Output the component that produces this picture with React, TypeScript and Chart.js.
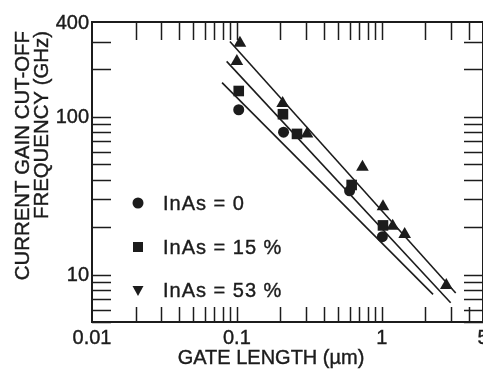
import React, { useEffect, useRef } from "react";
import { Chart, registerables } from "chart.js";

Chart.register(...registerables);

// ---- data ----
const seriesLabels = ["InAs = 0", "InAs = 15 %", "InAs = 53 %"];

const gateLen0 = [0.103, 0.21, 0.6, 1.01];
const fT0 = [111, 80, 34, 17.4];

const gateLen15 = [0.103, 0.208, 0.26, 0.62, 1.02];
const fT15 = [146, 104, 78, 37, 20.5];

const gateLen53 = [0.105, 0.1, 0.207, 0.305, 0.736, 1.02, 1.19, 1.44, 2.79];
const fT53 = [294, 225, 122, 78, 48, 27, 20.3, 18, 8.55];

// straight trend lines (end points)
const fitLen0 = [0.079, 2.26];
const fitFt0 = [165, 7.48];
const fitLen15 = [0.085, 2.99];
const fitFt15 = [225, 6.62];
const fitLen53 = [0.0895, 3.24];
const fitFt53 = [301, 7.64];

const xMin = 0.01;
const xMax = 5;
const yMin = 5;
const yMax = 400;

const xTickValues = [0.01, 0.1, 1, 5];
const xTickLabels = ["0.01", "0.1", "1", "5"];
const yTickValues = [10, 100, 400];
const yTickLabels = ["10", "100", "400"];
const xMinorTicks = [0.02, 0.03, 0.04, 0.05, 0.06, 0.07, 0.08, 0.09, 0.1, 0.2, 0.3, 0.4, 0.5, 0.6, 0.7, 0.8, 0.9, 1, 2, 3, 4];
const yMinorTicks = [5, 6, 7, 8, 9, 10, 20, 30, 40, 50, 60, 70, 80, 90, 100, 200, 300];

const xTitle = "GATE LENGTH (\u00b5m)";
const yTitleLines = ["CURRENT GAIN CUT-OFF", "FREQUENCY (GHz)"];

const INK = "#1c1c1c";
const FONT = '"Liberation Sans", Arial, Helvetica, sans-serif';

const pts = (xs: number[], ys: number[]) => xs.map((x, i) => ({ x, y: ys[i] }));

const heavyText = (ctx: CanvasRenderingContext2D, s: string, x: number, y: number) => {
  ctx.fillText(s, x, y);
  ctx.strokeText(s, x, y);
};

const framePlugin = {
  id: "framePlugin",
  afterDatasetsDraw(chart: any) {
    const { ctx, chartArea: a, scales } = chart;
    const xs = scales.x;
    const ys = scales.y;
    ctx.save();
    ctx.strokeStyle = INK;
    ctx.fillStyle = INK;

    // frame
    ctx.lineWidth = 2;
    ctx.strokeRect(a.left, a.top, a.right - a.left, a.bottom - a.top);

    // inward ticks
    ctx.lineWidth = 1.5;
    ctx.beginPath();
    xMinorTicks.forEach((v) => {
      const px = Math.round(xs.getPixelForValue(v)) + 0.5;
      ctx.moveTo(px, a.top);
      ctx.lineTo(px, a.top + 18);
      ctx.moveTo(px, a.bottom);
      ctx.lineTo(px, a.bottom - 15);
    });
    yMinorTicks.forEach((v) => {
      const py = Math.round(ys.getPixelForValue(v)) + 0.5;
      ctx.moveTo(a.left, py);
      ctx.lineTo(a.left + 19, py);
      ctx.moveTo(a.right, py);
      ctx.lineTo(a.right - 19, py);
    });
    ctx.stroke();

    ctx.lineWidth = 0.4;

    // tick labels
    ctx.font = `20px ${FONT}`;
    ctx.textAlign = "center";
    ctx.textBaseline = "top";
    xTickValues.forEach((v, i) => {
      heavyText(ctx, xTickLabels[i], xs.getPixelForValue(v), a.bottom + 6);
    });
    ctx.textAlign = "right";
    ctx.textBaseline = "middle";
    yTickValues.forEach((v, i) => {
      heavyText(ctx, yTickLabels[i], a.left - 3, ys.getPixelForValue(v) + 1);
    });

    // axis titles
    ctx.textAlign = "center";
    ctx.textBaseline = "middle";
    heavyText(ctx, xTitle, 271, 358);

    ctx.save();
    ctx.font = `20.4px ${FONT}`;
    ctx.translate(23, 31);
    ctx.rotate(-Math.PI / 2);
    ctx.textAlign = "right";
    ctx.textBaseline = "middle";
    heavyText(ctx, yTitleLines[0], 0, 0);
    heavyText(ctx, yTitleLines[1], 0, 19);
    ctx.restore();

    // legend
    const legendX = 163;
    const legendY = [203, 247, 290];
    ctx.textAlign = "left";
    ctx.textBaseline = "middle";
    (ctx as any).letterSpacing = "1px";
    seriesLabels.forEach((lab, i) => {
      const my = legendY[i];
      ctx.beginPath();
      if (i === 0) {
        ctx.arc(138, my, 5.5, 0, Math.PI * 2);
      } else if (i === 1) {
        ctx.rect(133, my - 5, 10, 10);
      } else {
        ctx.moveTo(132.5, my - 4);
        ctx.lineTo(143.5, my - 4);
        ctx.lineTo(138, my + 6);
        ctx.closePath();
      }
      ctx.fill();
      heavyText(ctx, lab, legendX, my + 1);
    });
    (ctx as any).letterSpacing = "0px";
    ctx.restore();
  },
};

export default function App() {
  const ref = useRef<HTMLCanvasElement | null>(null);
  useEffect(() => {
    if (!ref.current) return;
    const lineDs = (xs: number[], ys: number[]) => ({
      type: "line" as const,
      data: pts(xs, ys),
      showLine: true,
      borderColor: INK,
      borderWidth: 1.6,
      pointRadius: 0,
      fill: false,
    });
    const markDs = (label: string, xs: number[], ys: number[], style: string, r: number) => ({
      type: "scatter" as const,
      label,
      data: pts(xs, ys),
      pointStyle: style,
      pointRadius: r,
      pointBackgroundColor: INK,
      pointBorderColor: INK,
      pointBorderWidth: 0,
    });
    const chart = new Chart(ref.current, {
      type: "scatter",
      data: {
        datasets: [
          lineDs(fitLen0, fitFt0),
          lineDs(fitLen15, fitFt15),
          lineDs(fitLen53, fitFt53),
          markDs(seriesLabels[0], gateLen0, fT0, "circle", 5.5),
          markDs(seriesLabels[1], gateLen15, fT15, "rect", 7.5),
          markDs(seriesLabels[2], gateLen53, fT53, "triangle", 7.3),
        ] as any,
      },
      options: {
        responsive: false,
        animation: false,
        devicePixelRatio: 1,
        layout: { padding: { left: 92, top: 22, right: 17, bottom: 48 } },
        plugins: { legend: { display: false }, tooltip: { enabled: false } },
        scales: {
          x: { type: "logarithmic", min: xMin, max: xMax, display: false },
          y: { type: "logarithmic", min: yMin, max: yMax, display: false },
        },
      },
      plugins: [framePlugin],
    });
    return () => chart.destroy();
  }, []);
  return (
    <div
      style={{
        position: "fixed",
        left: 0,
        top: 0,
        width: 483,
        height: 370,
        overflow: "hidden",
        background: "#fff",
      }}
    >
      <canvas ref={ref} width={500} height={370} style={{ display: "block", width: 500, height: 370 }} />
    </div>
  );
}
